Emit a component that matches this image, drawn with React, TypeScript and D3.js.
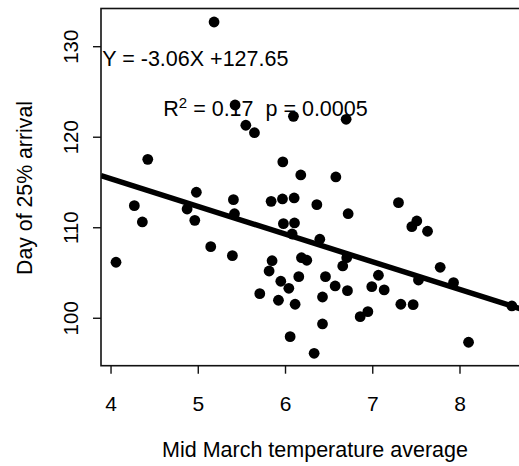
import React from "react";
import * as d3 from "d3";

// Mid-March temperature average (x) vs. day of 25% arrival (y)
const temperature = [
  5.181, 5.422, 6.091, 5.545, 5.644, 4.421, 5.969, 6.175, 4.978, 6.695,
  6.577, 4.267, 4.359, 4.872, 4.96, 5.403, 5.415, 5.143, 5.391, 4.057,
  5.835, 5.965, 6.099, 5.976, 6.103, 6.076, 5.846, 5.812, 6.183, 6.244,
  6.152, 5.946, 6.038, 5.705, 5.919, 6.11, 6.053, 6.359, 6.718, 6.393,
  7.295, 7.505, 7.448, 7.628, 6.702, 6.656, 7.065, 6.458, 6.569, 6.71,
  6.989, 7.131, 6.424, 6.944, 6.856, 7.322, 7.463, 7.524, 7.773, 7.926,
  8.595, 6.424, 8.098, 6.328,
];
const arrivalDay = [
  132.73, 123.56, 122.31, 121.32, 120.5, 117.56, 117.27, 115.83, 113.92, 121.98,
  115.61, 112.44, 110.64, 112.07, 110.82, 113.1, 111.55, 107.91, 106.92, 106.19,
  112.92, 113.18, 113.29, 110.45, 110.53, 109.31, 106.36, 105.22, 106.69, 106.41,
  104.6, 104.09, 103.31, 102.72, 101.99, 101.55, 97.97, 112.55, 111.55, 108.73,
  112.77, 110.75, 110.12, 109.61, 106.69, 105.78, 104.75, 104.6, 103.57, 103.05,
  103.49, 103.13, 102.35, 100.73, 100.18, 101.55, 101.5, 104.23, 105.63, 103.93,
  101.36, 99.37, 97.35, 96.13,
];

const xTicks = [4, 5, 6, 7, 8];
const yTicks = [100, 110, 120, 130];

// Fitted regression: Y = -3.06X + 127.65
const slope = -3.06;
const intercept = 127.65;

const W = 519;
const H = 466;
const FONT = "'Liberation Sans', Arial, Helvetica, sans-serif";

export default function App() {
  const x = d3.scaleLinear().domain([3.885, 8.885]).range([101, 537.2]);
  const y = d3.scaleLinear().domain([94.76, 134.22]).range([365.7, 8.5]);
  const [x0, x1] = x.domain();
  const [y0, y1] = y.domain();

  const line = d3
    .line<number>()
    .x((d) => x(d))
    .y((d) => y(slope * d + intercept));

  const points = temperature.map((t, i) => ({ t, d: arrivalDay[i] }));

  return (
    <svg
      width={W}
      height={H}
      style={{ position: "absolute", left: 0, top: 0, background: "#fff" }}
      fontFamily={FONT}
    >
      <rect width={W} height={H} fill="#fff" />
      <defs>
        <clipPath id="plot-clip">
          <rect x={x(x0)} y={y(y1)} width={x(x1) - x(x0)} height={y(y0) - y(y1)} />
        </clipPath>
      </defs>

      {/* data points and fitted line */}
      <g clipPath="url(#plot-clip)">
        {points.map((p, i) => (
          <circle key={i} cx={x(p.t)} cy={y(p.d)} r={5.4} fill="#000" />
        ))}
        <path d={line([x0, x1]) ?? ""} fill="none" stroke="#000" strokeWidth={5.5} />
      </g>

      {/* plot frame */}
      <rect
        x={x(x0)}
        y={y(y1)}
        width={x(x1) - x(x0)}
        height={y(y0) - y(y1)}
        fill="none"
        stroke="#111"
        strokeWidth={1.6}
      />

      {/* x axis */}
      {xTicks.map((t) => (
        <g key={t}>
          <line x1={x(t)} x2={x(t)} y1={y(y0)} y2={y(y0) + 8} stroke="#111" strokeWidth={1.4} />
          <text x={x(t)} y={411} textAnchor="middle" fontSize={21} fill="#000">
            {t}
          </text>
        </g>
      ))}

      {/* y axis */}
      {yTicks.map((t) => (
        <g key={t}>
          <line x1={x(x0) - 8} x2={x(x0)} y1={y(t)} y2={y(t)} stroke="#111" strokeWidth={1.4} />
          <text
            transform={`translate(78,${y(t)}) rotate(-90)`}
            textAnchor="middle"
            fontSize={20.5}
            fill="#000"
          >
            {t}
          </text>
        </g>
      ))}

      {/* axis titles */}
      <text x={315} y={456.5} textAnchor="middle" fontSize={21.5} fill="#000">
        Mid March temperature average
      </text>
      <text
        transform="translate(31.5,188) rotate(-90)"
        textAnchor="middle"
        fontSize={21.3}
        fill="#000"
      >
        Day of 25% arrival
      </text>

      {/* regression annotations */}
      <text x={102.3} y={65.7} fontSize={21.5} fill="#000">
        Y = -3.06X +127.65
      </text>
      <text x={163.3} y={116} fontSize={21.5} fill="#000" style={{ whiteSpace: "pre" }}>
        R
        <tspan fontSize={15} dy={-8.5}>2</tspan>
        <tspan dy={8.5}>{" = 0.17  p = 0.0005"}</tspan>
      </text>
    </svg>
  );
}
